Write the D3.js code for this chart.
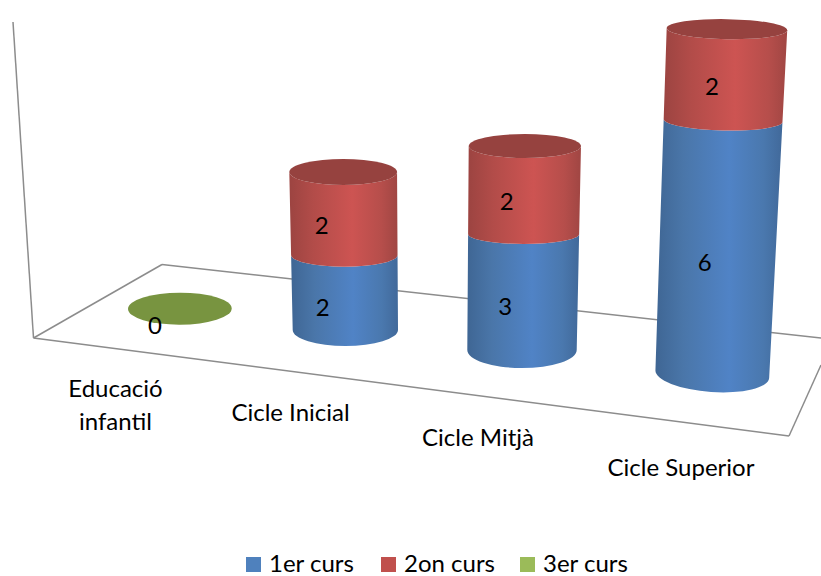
<!DOCTYPE html>
<html>
<head>
<meta charset="utf-8">
<script src="https://cdn.jsdelivr.net/npm/d3@7/dist/d3.min.js"></script>
<style>
html,body{margin:0;padding:0;background:#fff;overflow:hidden}
svg{display:block}
text{font-family:Lato,"Open Sans",sans-serif;fill:#000}
</style>
</head>
<body>
<script>
// ---- data ----
const categories = ["Educació infantil", "Cicle Inicial", "Cicle Mitjà", "Cicle Superior"];
const seriesNames = ["1er curs", "2on curs", "3er curs"];
const curs1 = [null, 2, 3, 6];
const curs2 = [null, 2, 2, 2];
const curs3 = [0, null, null, null];
const seriesValues = [curs1, curs2, curs3];

// ---- layout ----
const W = 821, H = 576;
const svg = d3.select("body").append("svg").attr("width", W).attr("height", H);
const idx = [0, 1, 2, 3];
const byCat = r => d3.scaleLinear().domain(idx).range(r);

// projected position of each category's cylinder foot
const footLeft  = byCat([128, 292.7, 467.3, 655.3]);
const footRight = byCat([231.7, 398, 576.7, 769.3]);
const footY     = byCat([308.7, 330, 350, 374]);
// lean of the cylinder sides per pixel of height (perspective)
const leanLeft  = byCat([0, -0.0215, 0.0069, 0.033]);
const leanRight = byCat([0, -0.006, 0.021, 0.052]);
// value -> pixel height, with perspective enlargement
const unitRise  = byCat([36, 35.7, 35.9, 39.9]);
const persp     = byCat([0.024, 0.024, 0.024, 0.0093]);
const rise = (i, v) => d3.scaleLinear().domain([0, 1]).range([0, unitRise(i)])(v) / (1 - persp(i) * v);
// ellipse depth and tilt as a function of stack level
const depthScales = [
  d3.scaleLinear().domain([0, 1]).range([16, 16]),
  d3.scaleLinear().domain([0, 2, 4]).range([16, 11.7, 13]),
  d3.scaleLinear().domain([0, 3, 5]).range([18, 10, 12]),
  d3.scaleLinear().domain([0, 6, 8]).range([18, 10, 10])
];
const tiltScales = [
  d3.scaleLinear().domain([0, 1]).range([-0.3, -0.3]),
  d3.scaleLinear().domain([0, 4]).range([0, 0]),
  d3.scaleLinear().domain([0, 5]).range([0, 0]),
  d3.scaleLinear().domain([0, 6, 8]).range([4, 1.4, 1])
];
const labelDx = byCat([-25, -22, -17.5, -13]);
const labelDy = d3.scaleOrdinal().domain([0, 1, 2]).range([15, 12, 17]);

function ring(i, v) {
  const h = rise(i, v);
  const xl = footLeft(i) + leanLeft(i) * h, xr = footRight(i) + leanRight(i) * h;
  const cy = footY(i) - h, cx = (xl + xr) / 2, rx = (xr - xl) / 2;
  const rot = tiltScales[i](v), ry = depthScales[i](v);
  const a = rot * Math.PI / 180;
  const dx = rx * Math.cos(a), dy = rx * Math.sin(a);
  return { cx, cy, rx, ry, rot, lx: cx - dx, ly: cy - dy, rx2: cx + dx, ry2: cy + dy };
}

// ---- gradients ----
const seriesColor = ["#4f81bd", "#c0504d", "#9bbb59"];
const sideStops = [
  [["0%", "#3f6694"], ["22%", "#4a76a9"], ["58%", "#5083c6"], ["85%", "#4a78ae"], ["100%", "#41699a"]],
  [["0%", "#9c4441"], ["22%", "#b24c49"], ["58%", "#cd5452"], ["85%", "#b64e4b"], ["100%", "#a04643"]]
];
const capColor = ["#3f6797", "#96423f", "#789440"];
const defs = svg.append("defs");
sideStops.forEach((st, s) => {
  const g = defs.append("linearGradient").attr("id", "side" + s)
    .attr("x1", 0).attr("x2", 1).attr("y1", 0).attr("y2", 0);
  st.forEach(([o, c]) => g.append("stop").attr("offset", o).attr("stop-color", c));
});

// ---- floor and wall ----
const gridColor = "#8c8c8c";
const lineGen = d3.line();
const wallAndFloor = [
  [[13, 22], [33.5, 338]],
  [[33.5, 338], [162, 264.5]],
  [[162, 264.5], [821, 338]],
  [[33.5, 338], [789, 436]],
  [[789, 436], [821, 365]]
];
svg.append("g").selectAll("path").data(wallAndFloor).join("path")
  .attr("d", lineGen).attr("fill", "none")
  .attr("stroke", gridColor).attr("stroke-width", 1.5);

// ---- cylinders ----
const marks = svg.append("g");
const labels = [];
categories.forEach((cat, i) => {
  let level = 0;
  let lastSeries = null;
  seriesValues.forEach((vals, s) => {
    const v = vals[i];
    if (v === null) return;
    const b = ring(i, level), t = ring(i, level + v);
    if (v > 0) {
      marks.append("path")
        .attr("fill", `url(#side${s})`)
        .attr("d", `M${b.lx},${b.ly}A${b.rx},${b.ry} ${b.rot} 0 0 ${b.rx2},${b.ry2}` +
                   `L${t.rx2},${t.ry2}A${t.rx},${t.ry} ${t.rot} 0 1 ${t.lx},${t.ly}Z`);
    }
    const my = (b.cy + t.cy) / 2;
    const mx = (b.cx + t.cx) / 2;
    labels.push({ x: mx + labelDx(i), y: my + labelDy(s), text: v });
    level += v;
    lastSeries = s;
  });
  if (lastSeries !== null) {
    const t = ring(i, level);
    marks.append("ellipse")
      .attr("cx", 0).attr("cy", 0).attr("rx", t.rx).attr("ry", t.ry)
      .attr("transform", `translate(${t.cx},${t.cy}) rotate(${t.rot})`)
      .attr("fill", capColor[lastSeries]);
  }
});

// ---- data labels ----
const fontSize = 24;
svg.append("g").selectAll("text").data(labels).join("text")
  .attr("x", d => d.x).attr("y", d => d.y).attr("dy", "0.35em")
  .attr("text-anchor", "middle").attr("font-size", fontSize)
  .text(d => d.text);

// ---- category labels ----
const catX = byCat([115.5, 290.5, 478, 681]);
const catY = byCat([396.5, 421, 446, 476]);
const catLines = [["Educació", "infantil"], [categories[1]], [categories[2]], [categories[3]]];
const catG = svg.append("g");
catLines.forEach((ls, i) => ls.forEach((l, k) => {
  catG.append("text").attr("x", catX(i)).attr("y", catY(i) + k * 33)
    .attr("text-anchor", "middle").attr("font-size", fontSize).text(l);
}));

// ---- legend ----
const legendX = d3.scaleOrdinal().domain(seriesNames).range([246, 381, 520]);
const legend = svg.append("g").selectAll("g").data(seriesNames).join("g")
  .attr("transform", d => `translate(${legendX(d)},557)`);
legend.append("rect").attr("width", 15).attr("height", 15)
  .attr("fill", (d, i) => seriesColor[i]);
legend.append("text").attr("x", 23).attr("y", 15).attr("font-size", fontSize).text(d => d);
</script>
</body>
</html>
